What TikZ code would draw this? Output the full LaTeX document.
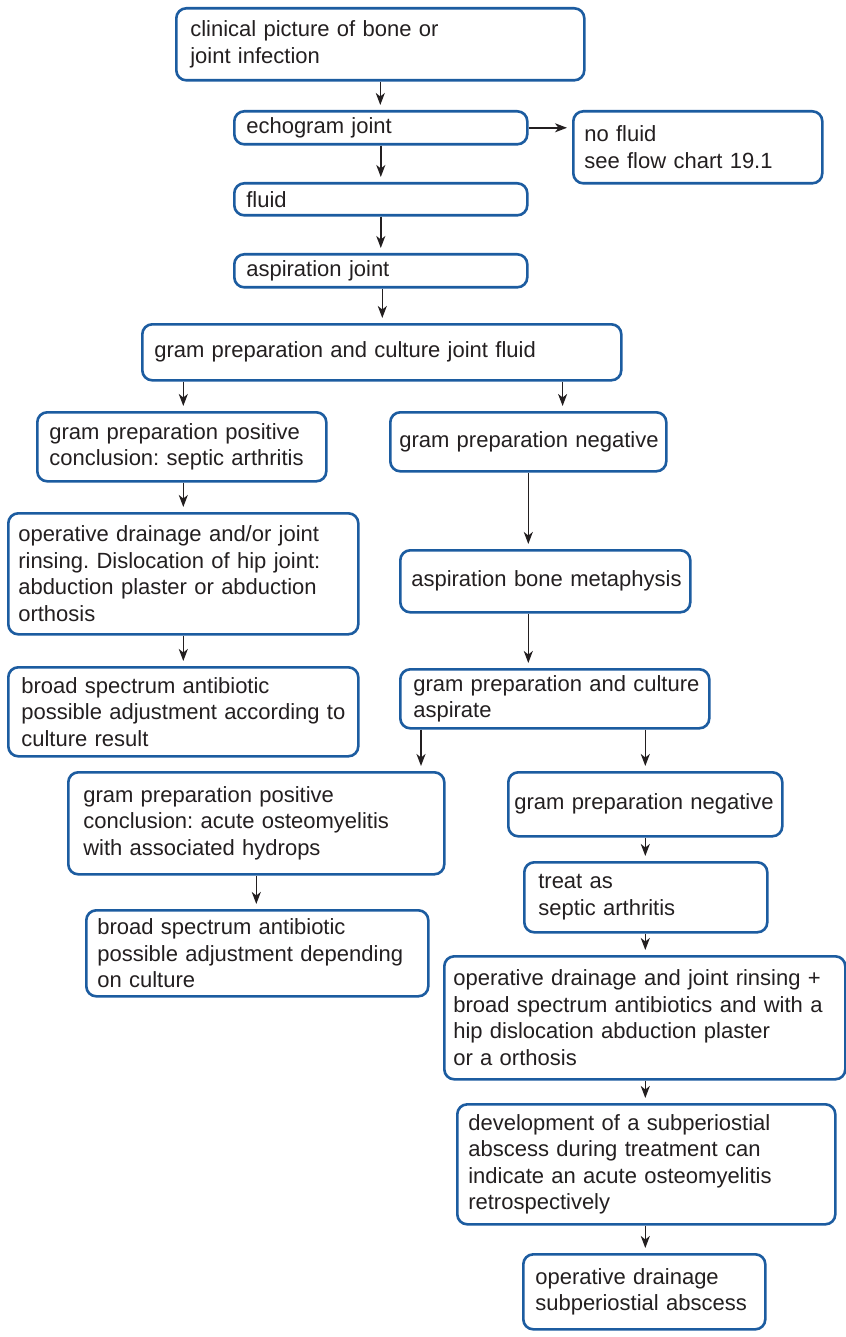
\documentclass[tikz,border=0pt]{standalone}
\usepackage{fontspec}
\setmainfont{Liberation Sans}
\usetikzlibrary{arrows.meta,calc}
\definecolor{boxblue}{RGB}{28,92,160}
\definecolor{txt}{RGB}{35,31,32}
\frenchspacing
\begin{document}
\begin{tikzpicture}[x=1pt,y=-1pt,
  box/.style={draw=boxblue, line width=2.6pt, rounded corners=10pt, fill=white,
    anchor=north west, align=left, inner ysep=0pt, text=txt,
    font=\fontsize{22}{26.5}\selectfont,
    execute at begin node={\frenchspacing\rightskip=0pt plus 1fil minus 40pt}},
  bx/.style n args={3}{minimum width=#1, minimum height=#2, inner xsep=#3, text width=#1-2*#3},
  arr/.style={draw=txt, line width=1.5pt, -{Stealth[length=12pt,width=9pt,inset=3.5pt]}, shorten >=5pt}]
\useasboundingbox (0,0) rectangle (845,1337);
\fill[white] (0,0) rectangle (845,1337);

\node[box, bx={408pt}{72pt}{14pt}] (clin) at (175,7) {clinical picture of bone or\\joint infection};
\node[box, bx={293pt}{33pt}{12pt}] (echo) at (233,110) {echogram joint};
\node[box, bx={249pt}{72pt}{11pt}] (nofl) at (572,110) {no fluid\\see flow chart 19.1};
\node[box, bx={293pt}{32pt}{12pt}] (fluid) at (233,182) {fluid};
\node[box, bx={293pt}{33pt}{12pt}] (aspj) at (233,253) {aspiration joint};
\node[box, bx={479pt}{56pt}{12pt}] (gjf) at (141,323) {gram preparation and culture joint fluid};
\node[box, bx={289pt}{69pt}{12pt}] (gpos) at (36,411) {gram preparation positive\\conclusion: septic arthritis};
\node[box, bx={276pt}{59pt}{9pt}] (gneg) at (389,411) {gram preparation negative};
\node[box, bx={350pt}{121pt}{10pt}] (opl) at (7,512) {operative drainage and/or joint\\rinsing. Dislocation of hip joint:\\abduction plaster or abduction\\orthosis};
\node[box, bx={350pt}{89pt}{13pt}] (bsl) at (7,666) {broad spectrum antibiotic\\possible adjustment according to\\culture result};
\node[box, bx={290pt}{62pt}{11pt}] (abm) at (399,549) {aspiration bone metaphysis};
\node[box, bx={309pt}{59pt}{13pt}] (gca) at (399,668) {gram preparation and culture\\aspirate};
\node[box, bx={376pt}{102pt}{15pt}] (aco) at (67,771) {gram preparation positive\\conclusion: acute osteomyelitis\\with associated hydrops};
\node[box, bx={342pt}{86pt}{11pt}] (bsd) at (85,909) {broad spectrum antibiotic\\possible adjustment depending\\on culture};
\node[box, bx={274pt}{64pt}{6pt}] (gneg2) at (507,771) {gram preparation negative};
\node[box, bx={243pt}{70pt}{14pt}] (treat) at (523,861) {treat as\\septic arthritis};
\node[box, bx={401pt}{123pt}{9pt}] (opr) at (443,955) {operative drainage and joint rinsing +\\broad spectrum antibiotics and with a\\hip dislocation abduction plaster\\or a orthosis};
\node[box, bx={378pt}{120pt}{11pt}] (dev) at (456,1103) {development of a subperiostial\\abscess during treatment can\\indicate an acute osteomyelitis\\retrospectively};
\node[box, bx={242pt}{75pt}{12pt}] (opsub) at (522,1253) {operative drainage\\subperiostial abscess};

\coordinate (gjfR) at ([xshift=-60pt]gjf.south east);
\coordinate (gcaL) at ([xshift=22pt]gca.south west);

\draw[arr] (clin.south) -- (clin.south |- echo.north);
\draw[arr] (echo.east) -- (echo.east -| nofl.west);
\draw[arr] (echo.south) -- (echo.south |- fluid.north);
\draw[arr] (fluid.south) -- (fluid.south |- aspj.north);
\draw[arr] ([xshift=1.5pt]aspj.south) -- ([xshift=1.5pt]aspj.south |- gjf.north);
\draw[arr] (opl.north |- gjf.south) -- (opl.north |- gpos.north);
\draw[arr] (gjfR) -- (gjfR |- gneg.north);
\draw[arr] (opl.north |- gpos.south) -- (opl.north);
\draw[arr] (opl.south) -- (bsl.north);
\draw[arr] (gneg.south) -- (gneg.south |- abm.north);
\draw[arr] (gneg.south |- abm.south) -- (gneg.south |- gca.north);
\draw[arr] (gcaL) -- (gcaL |- aco.north);
\draw[arr] (gneg2.north |- gca.south) -- (gneg2.north);
\draw[arr] (aco.south) -- (aco.south |- bsd.north);
\draw[arr] (gneg2.south) -- (gneg2.south |- treat.north);
\draw[arr] (gneg2.south |- treat.south) -- (gneg2.south |- opr.north);
\draw[arr] (gneg2.south |- opr.south) -- (gneg2.south |- dev.north);
\draw[arr] (gneg2.south |- dev.south) -- (gneg2.south |- opsub.north);
\end{tikzpicture}
\end{document}
